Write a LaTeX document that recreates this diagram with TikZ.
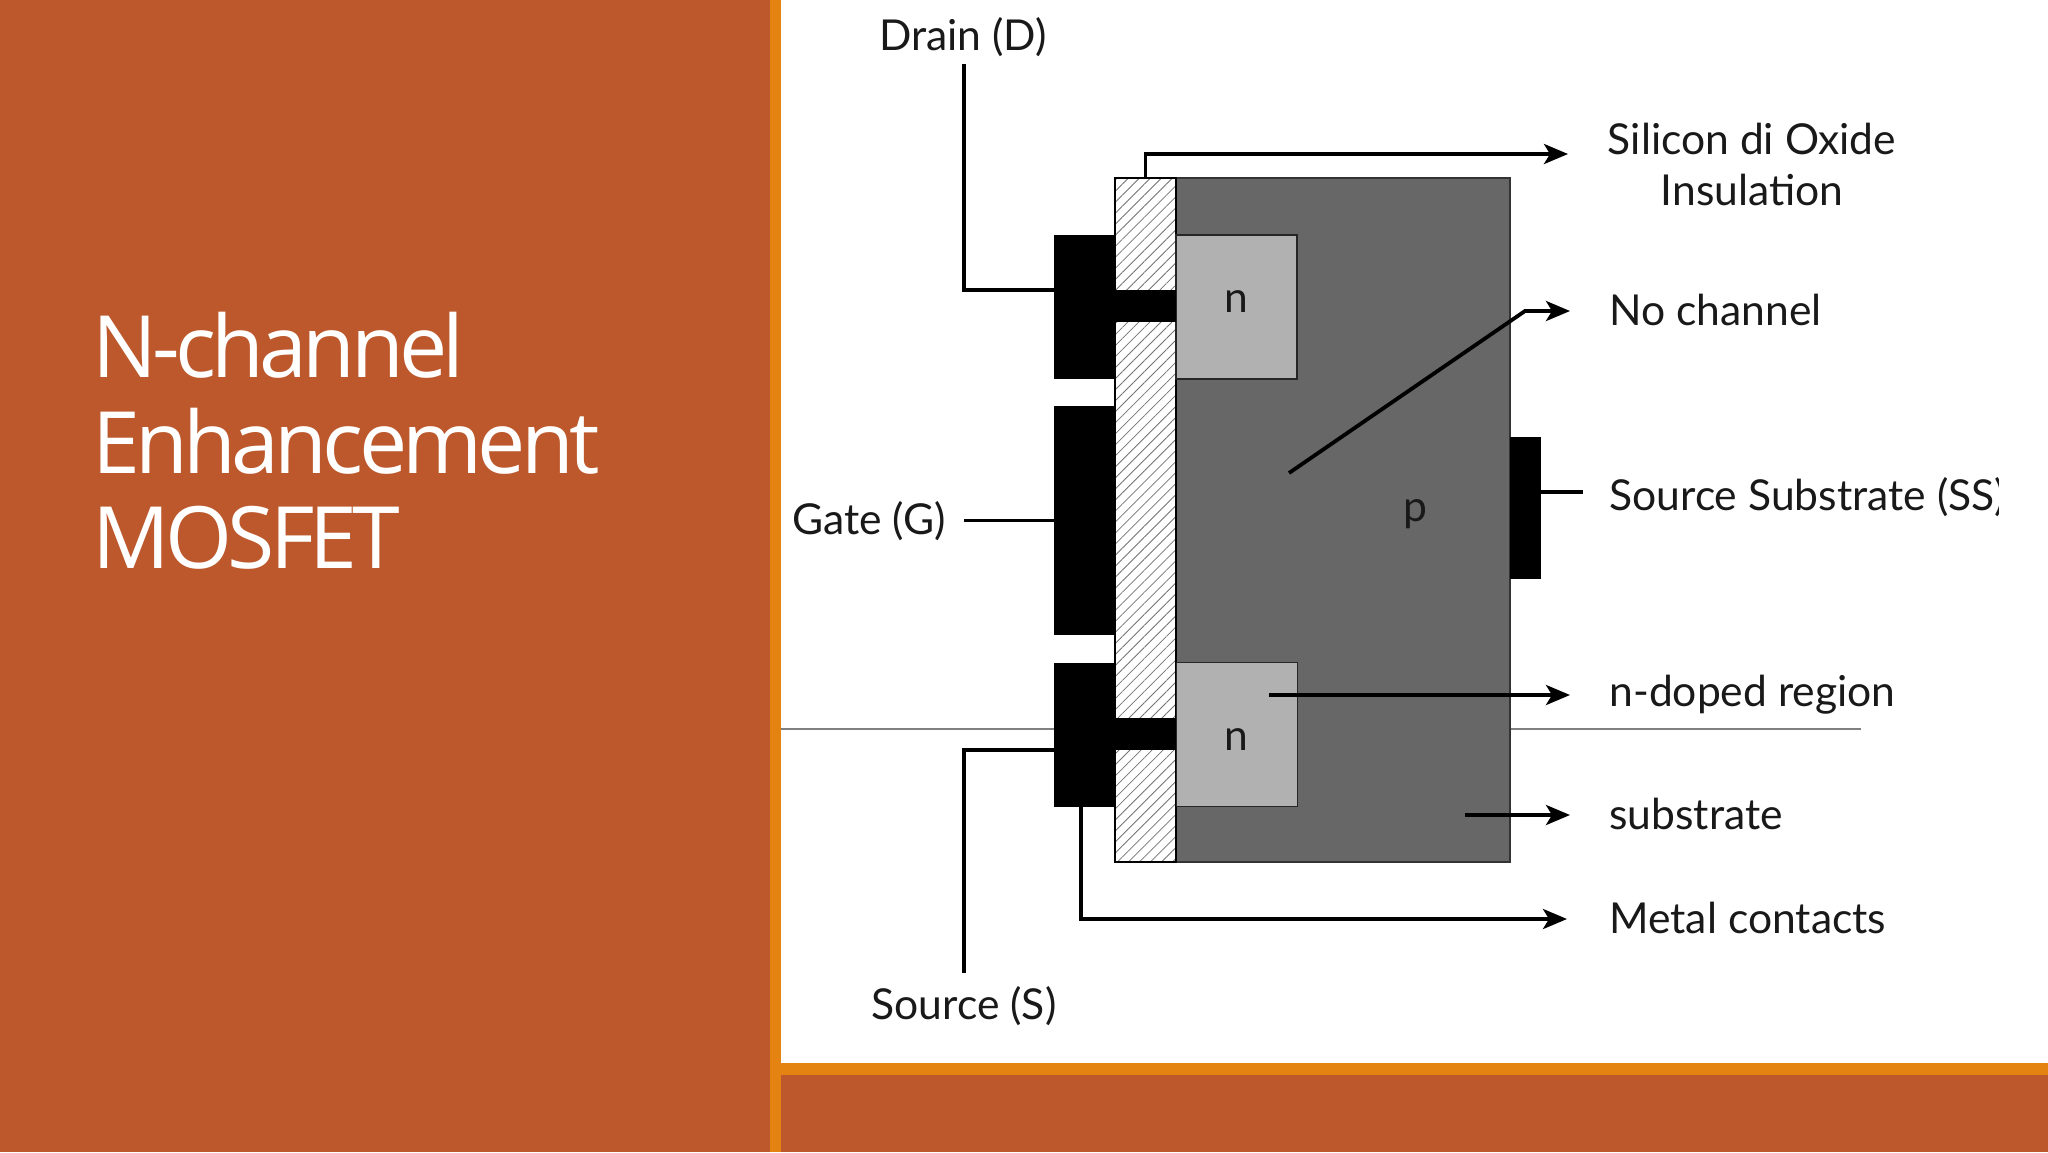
\documentclass[tikz,border=0pt]{standalone}
\usepackage{fontspec}
\setmainfont{Lato}
\newfontfamily\titlefont[LetterSpace=-5.5]{Open Sans}
\usetikzlibrary{arrows.meta,patterns.meta}
\definecolor{slidered}{HTML}{BC582B}
\definecolor{slideorange}{HTML}{E48312}
\definecolor{bulkgray}{HTML}{666766}
\definecolor{dopedgray}{HTML}{B0B1B0}
\begin{document}
\begin{tikzpicture}[x=0.5pt,y=-0.5pt,
part node/.style={rectangle,inner sep=0pt,outer sep=0pt},
pad node/.style={part node,fill=black},
doped node/.style={part node,draw=black!85,line width=0.7pt,fill=dopedgray,minimum width=60.5pt,minimum height=72pt},
label node/.style={font=\fontsize{21.3}{25}\selectfont,text=black!90,inner sep=0pt},
lead/.style={line width=1.9pt},
pointer/.style={lead,-{Stealth[length=12pt,width=10pt,inset=3pt]}}]
\useasboundingbox (0,0) rectangle (2048,1152);
%slide
\fill[white] (0,0) rectangle (2048,1152);
\fill[slidered] (0,0) rectangle (770,1152);
\fill[slidered] (770,1075) rectangle (2048,1152);
\fill[slideorange] (770,0) rectangle (781,1152);
\fill[slideorange] (781,1063) rectangle (2048,1075);
\node[anchor=west,align=left,text=white,inner sep=0pt,font=\titlefont\fontsize{43}{47.7}\selectfont] (title) at (92,441) {N-channel\\Enhancement\\MOSFET};
\coordinate (rulea) at (781,729);
\coordinate (ruleb) at (1861,729);
\draw[black!50,line width=0.6pt] (rulea) -- (ruleb);
%device
\begin{scope}
\node[part node,draw=black!80,line width=0.8pt,fill=bulkgray,minimum width=167pt,minimum height=342pt] (bulk) at (1343,520) {};
\node[part node,fill=white,minimum width=30.5pt,minimum height=342pt] (oxidebg) at (1145.5,520) {};
\node[part node,draw=black,line width=0.6pt,pattern={Lines[angle=45,distance=3.9pt,line width=0.4pt]},pattern color=black!55,minimum width=30.5pt,minimum height=342pt] (oxide) at (1145.5,520) {};
\draw[black,line width=1.1pt] (oxide.north east) -- (oxide.south east);
\node[doped node] (n1) at (1236.5,307) {};
\node[doped node] (n2) at (1237,734.5) {};
\node[pad node,minimum width=30.5pt,minimum height=72pt] (drainpad) at (1084.5,307) {};
\node[pad node,minimum width=30.5pt,minimum height=16pt] (drainstem) at (1145.5,306) {};
\node[pad node,minimum width=30.5pt,minimum height=114.5pt] (gatepad) at (1084.5,520.5) {};
\node[pad node,minimum width=30.5pt,minimum height=72pt] (sourcepad) at (1084.5,735) {};
\node[pad node,minimum width=30.5pt,minimum height=16pt] (sourcestem) at (1145.5,734) {};
\node[pad node,minimum width=15.5pt,minimum height=71pt] (sspad) at (1525.5,508) {};
\end{scope}
\begin{scope}[every node/.style={label node}]
\node (n1text) at (1236,302) {n};
\node (n2text) at (1236,740) {n};
\node (ptext) at (1415,514) {p};
\node[anchor=base] (drain) at (963,50) {Drain (D)};
\node[anchor=base east] (gate) at (946,534) {Gate (G)};
\node[anchor=base] (source) at (964,1019) {Source (S)};
\node[anchor=base] (silicon) at (1752,154) {Silicon di Oxide};
\node[anchor=base] (insulation) at (1752,205) {Insulation};
\node[anchor=base west] (nochannel) at (1609,325) {No channel};
\node[anchor=base west] (ndoped) at (1609,706) {n-doped region};
\node[anchor=base west] (substrate) at (1609,829) {substrate};
\node[anchor=base west] (metal) at (1609,933) {Metal contacts};
\begin{scope}
\clip (1590,440) rectangle (1998,540);
\node[anchor=base west] (sslabel) at (1609,510) {Source Substrate (SS)};
\end{scope}
\end{scope}
%connectors
\coordinate (draintop) at (964,64);
\coordinate (gateend) at (964,520.5);
\coordinate (sourcebottom) at (964,973);
\coordinate (ssend) at (1583,492);
\coordinate (oxideend) at (1568,154);
\coordinate (channelstart) at (1289,473);
\coordinate (channelbend) at (1525,311);
\coordinate (channelend) at (1570,311);
\coordinate (dopedstart) at (1269,695);
\coordinate (dopedend) at (1570,695);
\coordinate (substart) at (1465,815);
\coordinate (subend) at (1570,815);
\coordinate (metalstart) at (1081,806);
\coordinate (metalend) at (1567,919);
\draw[lead] (draintop) |- (drainpad.west |- drainstem.north);
\draw[lead] (gateend) -- (gatepad.west);
\draw[lead] (sourcebottom) |- (sourcepad.west |- sourcestem.south);
\draw[lead] (ssend) -- (sspad.east |- ssend);
\draw[pointer] (oxide.north) |- (oxideend);
\draw[pointer] (channelstart) -- (channelbend) -- (channelend);
\draw[pointer] (dopedstart) -- (dopedend);
\draw[pointer] (substart) -- (subend);
\draw[pointer] (metalstart) |- (metalend);
\end{tikzpicture}
\end{document}
